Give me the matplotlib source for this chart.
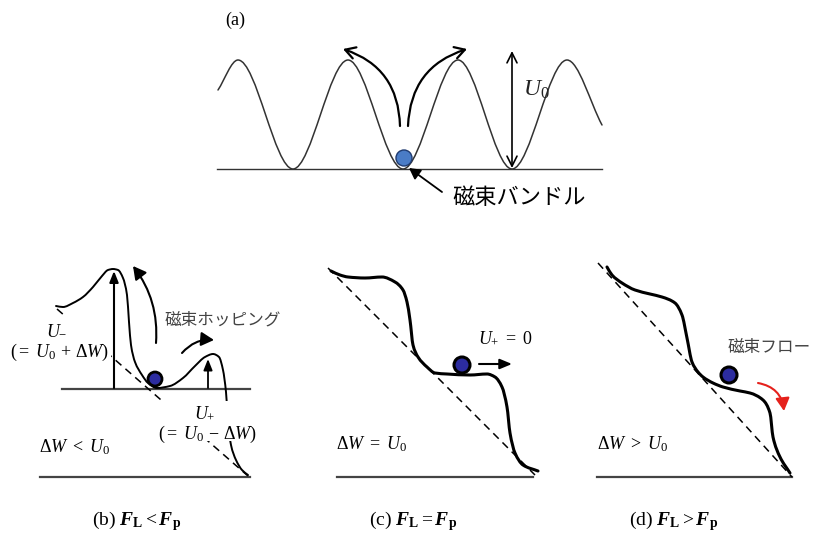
import numpy as np
import matplotlib
matplotlib.use("Agg")
import matplotlib.pyplot as plt
from matplotlib.path import Path
from matplotlib.patches import PathPatch, Circle, FancyArrowPatch, Rectangle, ArrowStyle

plt.rcParams["mathtext.fontset"] = "custom"
plt.rcParams["mathtext.rm"] = "Liberation Serif"
plt.rcParams["mathtext.it"] = "Liberation Serif:italic"
plt.rcParams["mathtext.bf"] = "Liberation Serif:bold"
try:
    plt.rcParams["mathtext.bfit"] = "Liberation Serif:italic:bold"
except KeyError:
    pass

JP = ["Noto Sans CJK JP", "DejaVu Sans"]

# ---- potential profiles (nodes of each curve) ----
# (a) periodic pinning potential
wave_x = [218, 238, 293, 348, 403, 458, 512, 567, 602]
wave_y = [90, 60, 169, 60, 169, 60, 169, 60, 125]

# (b) tilted potential, weak driving force
curve_b_x = [56, 63, 73, 83, 93, 102, 108, 113, 118, 123, 127, 129, 131, 135, 142, 148, 157,
             170, 183, 195, 205, 213, 219, 223, 226, 228, 231, 236, 242, 248]
curve_b_y = [306, 307, 303, 297, 287, 276, 270, 269, 270, 278, 295, 322, 345, 362, 375, 383, 388,
             386, 378, 366, 357, 354, 357, 370, 392, 420, 445, 460, 470, 475]
tilt_b_x = [57, 248]
tilt_b_y = [309, 476]

# (c) critical tilt
curve_c_x = [331, 340, 348, 365, 382, 395, 403, 407, 410, 413, 418, 427, 435, 447, 470, 487,
             495, 502, 507, 510, 515, 523, 538]
curve_c_y = [271, 275, 277, 278, 277, 282, 290, 302, 320, 345, 357, 367, 373, 374, 375, 374,
             377, 387, 407, 433, 453, 465, 471]
tilt_c_x = [328, 535]
tilt_c_y = [268, 475]

# (d) strong tilt, no barrier left
curve_d_x = [607, 612, 622, 635, 650, 662, 675, 682, 687, 692, 698, 703, 713, 723, 740, 750,
             763, 770, 773, 780, 790]
curve_d_y = [267, 275, 283, 290, 294, 297, 303, 315, 338, 362, 372, 377, 383, 387, 391, 393,
             400, 413, 437, 457, 473]
tilt_d_x = [598, 792]
tilt_d_y = [263, 477]

captions = [r"(b) $\mathbfit{F}_{\mathbf{L}} < \mathbfit{F}_{\mathbf{p}}$",
            r"(c) $\mathbfit{F}_{\mathbf{L}} = \mathbfit{F}_{\mathbf{p}}$",
            r"(d) $\mathbfit{F}_{\mathbf{L}} > \mathbfit{F}_{\mathbf{p}}$"]
conditions = [r"$\Delta W\ <\ U_0$", r"$\Delta W\ =\ U_0$", r"$\Delta W\ >\ U_0$"]


def smooth_path(xs, ys):
    """Monotone cubic (Hermite) through the nodes, as Bezier segments."""
    x = np.asarray(xs, float)
    y = np.asarray(ys, float)
    h = np.diff(x)
    delta = np.diff(y) / h
    d = np.zeros_like(x)
    for k in range(1, len(x) - 1):
        if delta[k - 1] * delta[k] <= 0:
            d[k] = 0.0
        else:
            w1 = 2 * h[k] + h[k - 1]
            w2 = h[k] + 2 * h[k - 1]
            d[k] = (w1 + w2) / (w1 / delta[k - 1] + w2 / delta[k])
    d[0] = delta[0]
    d[-1] = delta[-1]
    verts = [(x[0], y[0])]
    codes = [Path.MOVETO]
    for k in range(len(x) - 1):
        hk = h[k] / 3.0
        verts += [(x[k] + hk, y[k] + d[k] * hk),
                  (x[k + 1] - hk, y[k + 1] - d[k + 1] * hk),
                  (x[k + 1], y[k + 1])]
        codes += [Path.CURVE4] * 3
    return Path(verts, codes)


fig = plt.figure(figsize=(8.14, 5.43), dpi=100)
ax = fig.add_axes([0, 0, 1, 1])
ax.set_xlim(0, 814)
ax.set_ylim(543, 0)
ax.axis("off")


def curve(xs, ys, lw, color="black", z=3):
    ax.add_patch(PathPatch(smooth_path(xs, ys), fill=False, lw=lw, ec=color,
                           capstyle="round", joinstyle="round", zorder=z))


def arrow(p0, p1, style="-|>", rad=0.0, lw=1.3, color="black", ms=12, hl=0.6, hw=0.3, z=4):
    st = ArrowStyle(style, head_length=hl, head_width=hw)
    ax.add_patch(FancyArrowPatch(p0, p1, arrowstyle=st, mutation_scale=ms,
                                 connectionstyle=f"arc3,rad={rad}", lw=lw, color=color,
                                 shrinkA=0, shrinkB=0, zorder=z))


def ball(cx, cy, r, fc, ec, lw):
    ax.add_patch(Circle((cx, cy), r, fc=fc, ec=ec, lw=lw, zorder=6))


# ---------------- (a) ----------------
ax.text(235, 20, "(a)", fontsize=13, family="Liberation Serif", ha="center", va="center")
ax.plot([217, 602], [169, 169], color="#333333", lw=1.0, zorder=2)
curve(wave_x, wave_y, 1.1, color="#333333")
arrow((400, 126), (343, 49), style="->", rad=0.35, lw=1.6, ms=12, hl=0.6, hw=0.35)
arrow((408, 126), (467, 49), style="->", rad=-0.35, lw=1.6, ms=12, hl=0.6, hw=0.35)
arrow((512, 168), (512, 51), style="<->", lw=1.2, ms=12, hl=0.6, hw=0.3)
ax.text(536, 89, r"$U_0$", fontsize=17, ha="center", va="center", color="#222222")
ball(404, 158, 8, "#4a7cc6", "#1f3b70", 1.0)
arrow((442, 192), (409, 168), style="-|>", lw=1.3, ms=12, hl=0.55, hw=0.3)
ax.text(452, 197, "磁束バンドル", fontsize=16, family=JP, ha="left", va="center")

# ---------------- (b) ----------------
ax.plot([62, 250], [388.5, 388.5], color="#444444", lw=1.6, zorder=2)
ax.plot([40, 250], [477, 477], color="#444444", lw=1.6, zorder=2)
ax.plot(tilt_b_x, tilt_b_y, color="black", lw=1.1, ls=(0, (5, 3.5)), zorder=2)
curve(curve_b_x, curve_b_y, 1.4)
arrow((114, 388), (114, 271), lw=1.5, ms=12, hl=0.55, hw=0.22)
arrow((208, 388), (208, 359), lw=1.3, ms=12, hl=0.55, hw=0.22)
arrow((156, 343), (133, 266), rad=0.19, lw=1.5, ms=14, hl=0.55, hw=0.3)
arrow((182, 353), (214, 340), rad=-0.25, lw=1.5, ms=14, hl=0.55, hw=0.3)
ball(155, 379, 7, "#2c2ca0", "black", 2.0)
# label plates mask the lines behind them
ax.add_patch(Rectangle((8, 317), 103, 45, fc="white", ec="none", zorder=5))
ax.add_patch(Rectangle((158, 401), 100, 40, fc="white", ec="none", zorder=5))
ax.text(57, 330, r"$U_{-}$", fontsize=13, ha="center", va="center", zorder=7)
ax.text(59, 352, r"$(=\ U_0\,+\,\Delta W)$", fontsize=13, ha="center", va="center", zorder=7)
ax.text(205, 413, r"$U_{+}$", fontsize=13, ha="center", va="center", zorder=7)
ax.text(207, 434, r"$(=\ U_0\,-\,\Delta W)$", fontsize=13, ha="center", va="center", zorder=7)
ax.text(165, 320, "磁束ホッピング", fontsize=12, family=JP, color="#444444",
        ha="left", va="center", zorder=7)
ax.text(75, 447, conditions[0], fontsize=13, ha="center", va="center", zorder=7)

# ---------------- (c) ----------------
ax.plot([337, 533], [477, 477], color="#444444", lw=1.6, zorder=2)
ax.plot(tilt_c_x, tilt_c_y, color="black", lw=1.1, ls=(0, (5, 3.5)), zorder=2)
curve(curve_c_x, curve_c_y, 2.2)
ball(462, 365, 8, "#2c2ca0", "black", 2.2)
arrow((479, 364), (512, 364), lw=1.5, ms=12, hl=0.6, hw=0.25)
ax.text(505, 338, r"$U_{+}\ =\ 0$", fontsize=13, ha="center", va="center")
ax.text(372, 444, conditions[1], fontsize=13, ha="center", va="center")

# ---------------- (d) ----------------
ax.plot([597, 792], [477, 477], color="#444444", lw=1.6, zorder=2)
ax.plot(tilt_d_x, tilt_d_y, color="black", lw=1.1, ls=(0, (5, 3.5)), zorder=2)
curve(curve_d_x, curve_d_y, 2.2)
ball(729, 375, 8, "#2c2ca0", "black", 2.2)
arrow((758, 383), (784, 411), rad=-0.37, lw=1.5, color="#e5211c", ms=14, hl=0.55, hw=0.3)
ax.text(728, 347, "磁束フロー", fontsize=12, family=JP, color="#444444",
        ha="left", va="center")
ax.text(633, 444, conditions[2], fontsize=13, ha="center", va="center")

# ---------------- captions ----------------
for cx, txt in zip([137, 413, 674], captions):
    ax.text(cx, 521, txt, fontsize=14, family="Liberation Serif", ha="center", va="center")

fig.savefig("out.png", dpi=100)
